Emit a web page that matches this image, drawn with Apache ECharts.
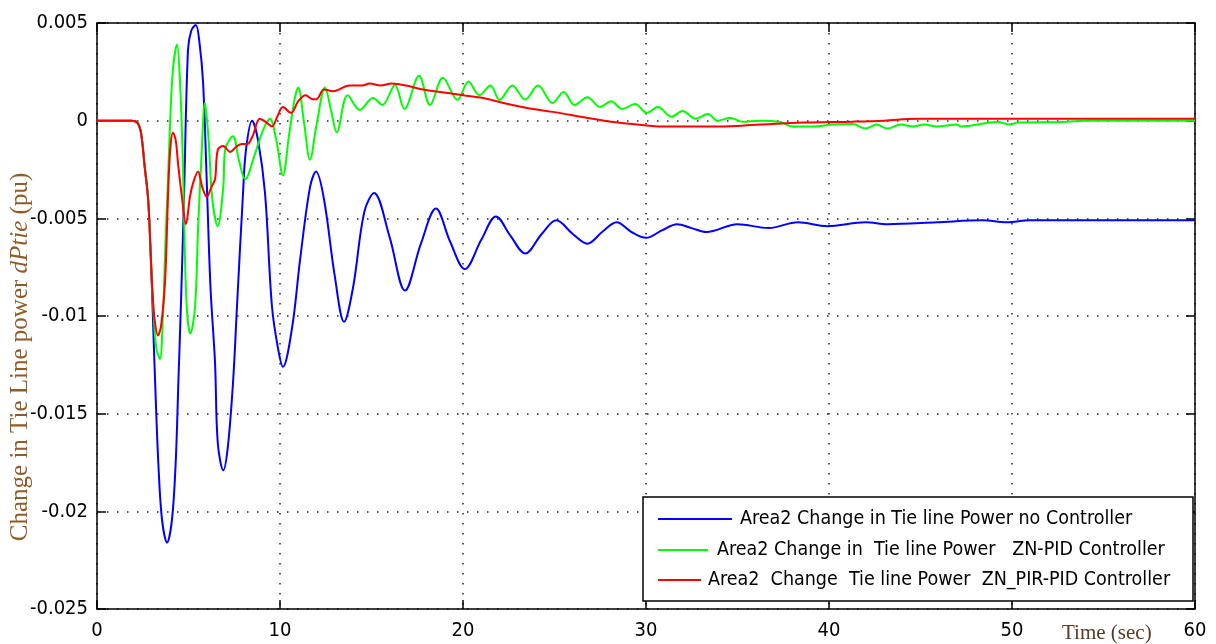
<!DOCTYPE html>
<html>
<head>
<meta charset="utf-8">
<title>Area2 Tie Line Power</title>
<script src="https://cdn.jsdelivr.net/npm/echarts@6/dist/echarts.min.js"></script>
<style>
  html, body { margin: 0; padding: 0; background: #fff; }
  #chart { width: 1216px; height: 644px; }
</style>
</head>
<body>
<div id="chart"></div>
<script>
// Time axis (sec) and tie-line power deviation (pu) for each controller case
const blueTime = [0, 1.9, 2.2, 2.4, 2.6, 2.8, 2.95, 3.07, 3.2, 3.35, 3.55, 3.83, 4.1, 4.3, 4.45, 4.6, 4.75, 4.97, 5.15, 5.4, 5.6, 5.8, 6.0, 6.2, 6.45, 6.6, 6.9, 7.15, 7.44, 7.65, 7.98, 8.14, 8.47, 8.8, 9.18, 9.56, 9.9, 10.16, 10.66, 11.1, 11.64, 11.97, 12.4, 13.0, 13.5, 14.0, 14.6, 15.14, 16.0, 16.83, 17.7, 18.52, 19.3, 20.1, 21.0, 21.8, 22.6, 23.4, 24.3, 25.1, 26.0, 26.8, 27.6, 28.4, 29.2, 30.0, 30.9, 31.7, 32.5, 33.3, 35.0, 36.7, 38.3, 39.9, 42.0, 43.2, 45.9, 48.4, 49.7, 51.0, 60];
const blueValues = [0, 0, -0.0001, -0.0006, -0.0023, -0.0041, -0.0072, -0.0105, -0.0140, -0.0175, -0.0204, -0.0216, -0.0204, -0.0175, -0.0133, -0.0090, -0.0041, 0.0036, 0.0046, 0.0049, 0.0040, 0.0019, -0.0032, -0.0085, -0.0124, -0.0165, -0.0179, -0.0167, -0.0133, -0.0095, -0.0037, -0.0015, 0.0000, -0.0010, -0.0037, -0.0095, -0.0117, -0.0126, -0.0106, -0.0071, -0.0034, -0.0026, -0.0040, -0.0080, -0.0103, -0.0085, -0.0047, -0.0037, -0.0060, -0.0087, -0.0063, -0.0045, -0.0062, -0.0076, -0.0061, -0.0049, -0.0059, -0.0068, -0.0058, -0.0051, -0.0058, -0.0063, -0.0057, -0.0052, -0.0057, -0.0060, -0.0056, -0.0053, -0.0055, -0.0057, -0.0053, -0.0055, -0.0052, -0.0054, -0.0052, -0.0053, -0.0052, -0.0051, -0.0052, -0.0051, -0.0051];

const greenTime = [0, 1.9, 2.2, 2.4, 2.6, 2.8, 2.95, 3.1, 3.25, 3.44, 3.6, 3.75, 3.88, 4.0, 4.15, 4.37, 4.54, 4.7, 4.8, 4.93, 5.1, 5.36, 5.52, 5.7, 5.9, 6.1, 6.3, 6.6, 6.9, 7.0, 7.43, 7.75, 8.1, 8.6, 9.07, 9.45, 9.8, 10.16, 10.5, 10.8, 11.0, 11.3, 11.64, 12.0, 12.46, 12.8, 13.1, 13.7, 14.37, 15.08, 15.6, 16.28, 16.8, 17.6, 18.2, 18.9, 19.7, 20.3, 20.9, 21.5, 22.0, 22.7, 23.4, 24.1, 24.9, 25.5, 26.1, 26.8, 27.5, 28.1, 28.7, 29.4, 30.05, 30.65, 31.4, 32.0, 32.7, 33.4, 33.9, 34.6, 35.3, 36.2, 37.3, 38.0, 39.1, 40.2, 41.3, 42.0, 42.6, 43.2, 43.9, 44.6, 45.2, 45.9, 47.0, 47.2, 49.2, 49.9, 50.3, 52.8, 54, 57, 60];
const greenValues = [0, 0, -0.0001, -0.0006, -0.0023, -0.0041, -0.0072, -0.0100, -0.0117, -0.0122, -0.0100, -0.0060, -0.0030, 0.0000, 0.0026, 0.0039, 0.0019, -0.0024, -0.0068, -0.0099, -0.0109, -0.0095, -0.0056, -0.0020, 0.0009, -0.0010, -0.0040, -0.0054, -0.0034, -0.0015, -0.0008, -0.0020, -0.0030, -0.0018, -0.0005, 0.0001, -0.0010, -0.0028, -0.0007, 0.0011, 0.0017, 0.0000, -0.0020, -0.0002, 0.0017, 0.0005, -0.0006, 0.0013, 0.00055, 0.00116, 0.0008, 0.00183, 0.0006, 0.0023, 0.0008, 0.0022, 0.00106, 0.0020, 0.0013, 0.0018, 0.00106, 0.0018, 0.00108, 0.0018, 0.0009, 0.00147, 0.0008, 0.0012, 0.0007, 0.0010, 0.0006, 0.00085, 0.0004, 0.0007, 0.0002, 0.0005, 0.0001, 0.00034, 0.0000, 0.00014, -0.00006, 0.0000, -0.00006, -0.0003, -0.0003, -0.0002, -0.00017, -0.0004, -0.0002, -0.0004, -0.0002, -0.0003, -0.0002, -0.0003, -0.0002, -0.0003, -0.00007, -0.0002, -0.0001, -0.00007, 0.0000, 0.0000, 0.0000];

const redTime = [0, 1.9, 2.2, 2.4, 2.6, 2.8, 2.95, 3.05, 3.15, 3.33, 3.5, 3.72, 3.88, 4.0, 4.15, 4.3, 4.43, 4.64, 4.86, 5.08, 5.25, 5.52, 5.75, 6.0, 6.25, 6.45, 6.6, 6.9, 7.27, 7.65, 7.92, 8.2, 8.5, 8.9, 9.27, 9.56, 9.85, 10.16, 10.6, 11.0, 11.4, 11.8, 12.0, 12.4, 12.9, 13.8, 14.5, 14.9, 15.5, 16.1, 16.9, 17.8, 19.3, 20.0, 21.1, 22.2, 23.5, 24.9, 26.8, 28.2, 29.5, 30.9, 34.0, 36.2, 38.6, 41.3, 43.0, 44.8, 60];
const redValues = [0, 0, -0.0001, -0.0006, -0.0023, -0.0041, -0.0072, -0.0090, -0.0102, -0.0110, -0.0105, -0.0082, -0.0039, -0.0015, -0.0006, -0.0010, -0.0022, -0.0039, -0.0053, -0.0039, -0.0032, -0.0026, -0.0034, -0.0039, -0.0034, -0.0030, -0.0015, -0.0013, -0.0016, -0.0013, -0.0012, -0.0012, -0.0008, 0.0001, -0.0001, -0.0003, 0.0002, 0.0007, 0.0004, 0.0010, 0.0013, 0.0011, 0.0011, 0.0016, 0.0015, 0.0018, 0.0018, 0.0019, 0.0018, 0.0019, 0.0018, 0.0016, 0.0014, 0.0013, 0.00116, 0.0009, 0.00065, 0.00045, 0.00014, -0.00007, -0.0002, -0.0003, -0.0003, -0.0002, -0.0001, -0.00005, 0.0000, 0.0001, 0.0001];

const seriesNames = [
  'Area2 Change in Tie line Power no Controller',
  'Area2 Change in  Tie line Power   ZN-PID Controller',
  'Area2  Change  Tie line Power  ZN_PIR-PID Controller'
];
const seriesColors = ['#0000ff', '#00ff00', '#ff0000'];

const xTicks = [0, 10, 20, 30, 40, 50, 60];
const yTickLabels = ['-0.025', '-0.02', '-0.015', '-0.01', '-0.005', '0', '0.005'];

const pairs = (t, v) => t.map((x, i) => [x, v[i]]);
const seriesData = [
  pairs(blueTime, blueValues),
  pairs(greenTime, greenValues),
  pairs(redTime, redValues)
];

const tickFont = '"Liberation Sans Narrow", "DejaVu Sans Condensed", "Arial Narrow", sans-serif';
const serifFont = '"Liberation Serif", "DejaVu Serif", serif';
const labelColor = '#8f5c26';

const grid = { left: 97, right: 21, top: 23, bottom: 35 };
const dotted = { color: '#222', width: 1.5, type: [1.5, 8.5] };

const legendRows = [
  { top: 509, itemWidth: 74, pad: 3 },
  { top: 540, itemWidth: 50, pad: 4 },
  { top: 570, itemWidth: 43, pad: 2 }
];

const chart = echarts.init(document.getElementById('chart'), null, { renderer: 'canvas' });

chart.setOption({
  backgroundColor: '#ffffff',
  animation: false,
  grid: Object.assign({ show: false }, grid),
  xAxis: [
    {
      type: 'value', min: xTicks[0], max: xTicks[xTicks.length - 1], interval: 10,
      position: 'bottom',
      axisLine: { show: true, onZero: false, lineStyle: { color: '#000', width: 1.5 } },
      axisTick: { show: true, inside: true, length: 9, lineStyle: { color: '#000', width: 1.5 } },
      axisLabel: { color: '#000', fontFamily: tickFont, fontSize: 20, margin: 12 },
      splitLine: { show: true, lineStyle: dotted }
    },
    {
      type: 'value', min: xTicks[0], max: xTicks[xTicks.length - 1], interval: 10,
      position: 'top',
      axisLine: { show: true, onZero: false, lineStyle: { color: '#000', width: 1.5 } },
      axisTick: { show: true, inside: true, length: 9, lineStyle: { color: '#000', width: 1.5 } },
      axisLabel: { show: false },
      splitLine: { show: false }
    }
  ],
  yAxis: [
    {
      type: 'value', min: -0.025, max: 0.005, interval: 0.005,
      position: 'left',
      axisLine: { show: true, onZero: false, lineStyle: { color: '#000', width: 1.5 } },
      axisTick: { show: true, inside: true, length: 9, lineStyle: { color: '#000', width: 1.5 } },
      axisLabel: {
        color: '#000', fontFamily: tickFont, fontSize: 20, margin: 9,
        formatter: v => yTickLabels[Math.round((v + 0.025) / 0.005)]
      },
      splitLine: { show: true, lineStyle: dotted }
    },
    {
      type: 'value', min: -0.025, max: 0.005, interval: 0.005,
      position: 'right',
      axisLine: { show: true, onZero: false, lineStyle: { color: '#000', width: 1.5 } },
      axisTick: { show: true, inside: true, length: 9, lineStyle: { color: '#000', width: 1.5 } },
      axisLabel: { show: false },
      splitLine: { show: false }
    }
  ],
  legend: legendRows.map((row, i) => ({
    data: [seriesNames[i]],
    left: 658,
    top: row.top,
    orient: 'horizontal',
    padding: 0,
    itemWidth: row.itemWidth,
    itemHeight: 2,
    icon: 'rect',
    selectedMode: false,
    z: 20,
    textStyle: {
      color: '#000', fontFamily: tickFont, fontSize: 19.5, lineHeight: 20,
      padding: [0, 0, 0, row.pad]
    }
  })),
  graphic: [
    {
      type: 'rect', z: 15,
      shape: { x: 643, y: 497, width: 550, height: 104 },
      style: { fill: '#fff', stroke: '#000', lineWidth: 1.5 }
    },
    {
      type: 'text', z: 15,
      x: 20, y: 357, rotation: Math.PI / 2,
      style: {
        text: 'Change in Tie Line power {i|dPtie} (pu)',
        fill: labelColor, font: '25px ' + serifFont,
        align: 'center', verticalAlign: 'middle',
        rich: { i: { fontStyle: 'italic', fontSize: 25, fontFamily: serifFont, fill: labelColor } }
      }
    },
    {
      type: 'text', z: 15,
      x: 1062, y: 633,
      style: {
        text: 'Time (sec)', fill: '#5a3a22', font: '21px ' + serifFont,
        align: 'left', verticalAlign: 'middle'
      }
    }
  ],
  series: seriesData.map((d, i) => ({
    name: seriesNames[i],
    type: 'line',
    data: d,
    xAxisIndex: 0,
    yAxisIndex: 0,
    showSymbol: false,
    smooth: 0.35,
    color: seriesColors[i],
    lineStyle: { color: seriesColors[i], width: 2 },
    z: 3 + i
  }))
});
</script>
</body>
</html>
